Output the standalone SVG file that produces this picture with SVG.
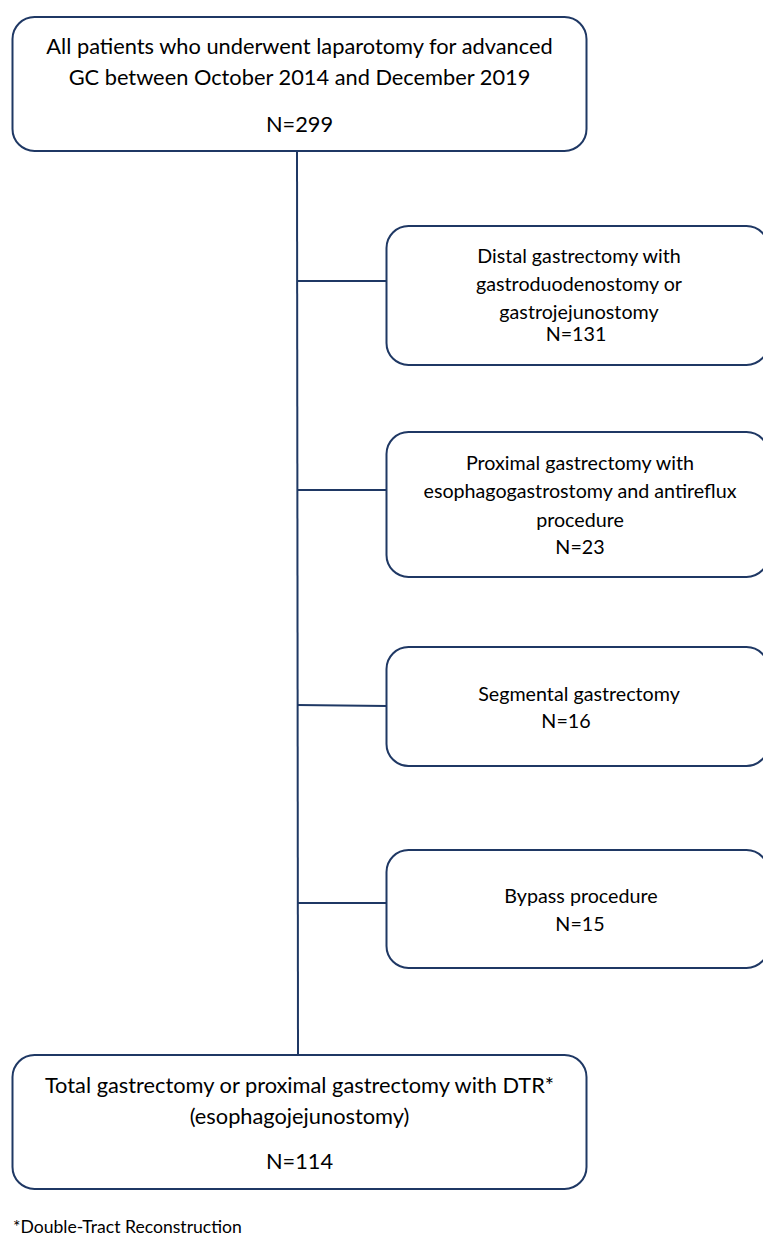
<svg xmlns="http://www.w3.org/2000/svg" width="763" height="1237" viewBox="0 0 763 1237">
<style>
.box{fill:#fff;stroke:#1f3864;stroke-width:2}
.ln{stroke:#1f3864;stroke-width:2;fill:none}
.t{font-family:Lato,"Open Sans","Liberation Sans",sans-serif;fill:#000;text-anchor:middle}
.big{font-size:21.8px}
.sm{font-size:19.7px}
.fn{font-family:Lato,"Open Sans","Liberation Sans",sans-serif;font-size:17.6px;fill:#000}
</style>
<rect width="763" height="1237" fill="#fff"/>
<g id="connectors">
<line class="ln" x1="297" y1="151" x2="298" y2="1055"/>
<line class="ln" x1="297" y1="281" x2="387" y2="281"/>
<line class="ln" x1="297" y1="490" x2="387" y2="490"/>
<line class="ln" x1="297" y1="705" x2="387" y2="706"/>
<line class="ln" x1="297" y1="903" x2="387" y2="903"/>
</g>
<g id="n-top">
<rect class="box" x="12.5" y="17" width="574" height="134" rx="22"/>
<text class="t big" x="299.5" y="54">All patients who underwent laparotomy for advanced</text>
<text class="t big" x="299.5" y="85">GC between October 2014 and December 2019</text>
<text class="t big" x="299.5" y="132">N=299</text>
</g>
<g id="n-distal">
<rect class="box" x="386.5" y="226" width="382" height="139" rx="22"/>
<text class="t sm" x="579" y="263">Distal gastrectomy with</text>
<text class="t sm" x="579" y="291">gastroduodenostomy or</text>
<text class="t sm" x="579" y="319">gastrojejunostomy</text>
<text class="t sm" x="576" y="341">N=131</text>
</g>
<g id="n-proximal">
<rect class="box" x="386.5" y="432" width="382" height="145" rx="22"/>
<text class="t sm" x="580" y="470">Proximal gastrectomy with</text>
<text class="t sm" x="580" y="498">esophagogastrostomy and antireflux</text>
<text class="t sm" x="580" y="527">procedure</text>
<text class="t sm" x="580" y="554">N=23</text>
</g>
<g id="n-segmental">
<rect class="box" x="386.5" y="647" width="382" height="119" rx="22"/>
<text class="t sm" x="579" y="701">Segmental gastrectomy</text>
<text class="t sm" x="566" y="728">N=16</text>
</g>
<g id="n-bypass">
<rect class="box" x="386.5" y="850" width="382" height="118" rx="22"/>
<text class="t sm" x="581" y="903">Bypass procedure</text>
<text class="t sm" x="580" y="931">N=15</text>
</g>
<g id="n-total">
<rect class="box" x="12.5" y="1055" width="574" height="134" rx="22"/>
<text class="t big" x="299.5" y="1093">Total gastrectomy or proximal gastrectomy with DTR*</text>
<text class="t big" x="299.5" y="1124">(esophagojejunostomy)</text>
<text class="t big" x="299.5" y="1169">N=114</text>
</g>
<text class="fn" x="13" y="1233">*Double-Tract Reconstruction</text>
</svg>
